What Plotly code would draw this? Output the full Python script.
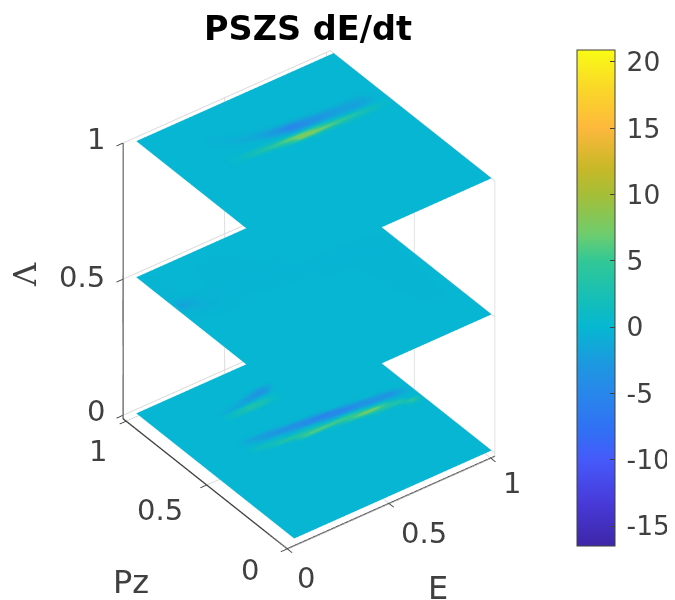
import plotly.graph_objects as go

E_MIN, E_MAX = 0.05, 1.02
PZ_MIN, PZ_MAX = 0.02, 1.0

lambda_levels = [0, 0.5, 1]

# fractions across each slice
bottom_e = [0, .20, .25, .30, .35, .40, .45, .50, .55, .60, .65, .70, .75, .80, .85, .90, .95, 1.0]
bottom_pz = [0, .40, .42, .44, .46, .48, .50, .52, .54, .56, .58, .60, .62, .64, .72, .74, .76, .78, .80, .82, .84, .86, .88, 1.0]
bottom_values = [
    [0]*18,
    [0]*18,
    [0, 0, 0, 0, 0, 0, 0, 0, 0, 0, 0, 0, 0, 0, 0, 0, 1, 0],
    [0, 0, 0, 0, 0, 0, 0, 0, 0, 0, 0, 0, 0, 0, 0, 1, 4.5, 0],
    [0, 0, 0, 0, 0, 0, 0, 0, 0, 0, 0, 0, 1.5, 3, 3.5, 3.7, 0, 0],
    [0, 0, 0, 0, 0, 0, 0, 0, 0, 1, 3, 6, 8.5, 7.5, 3.5, 0, 0, 0],
    [0, 0, 0, 0, 0, .5, 5, 6.5, 6.5, 6, 5.5, 4.5, 2, 0, -.8, -1.6, -1.3, 0],
    [0, 0, 0, 1, 3, 4, 3, 2.5, 1.5, 0, -.5, -1.4, -2.3, -3.3, -3.5, -3.7, -1.3, 0],
    [0, 0, 1.5, 2, 1.5, 0, 0, -.4, -1.6, -3.3, -4.7, -5.4, -4.3, -3.3, -1.9, -1, 0, 0],
    [0, 0, .5, 0, -.4, -1.3, -2.7, -4.4, -5.6, -6, -4.7, -2.6, -1, 0, 0, 0, 0, 0],
    [0, 0, -.5, -1.7, -3, -4, -4, -3.6, -2.4, -1.4, 0, 0, 0, 0, 0, 0, 0, 0],
    [0, 0, -1.5, -2.3, -2.3, -1.3, -.7, 0, 0, 0, 0, 0, 0, 0, 0, 0, 0, 0],
    [0, 0, -.5, -.3, 0, 0, 0, 0, 0, 0, 0, 0, 0, 0, 0, 0, 0, 0],
    [0]*18,
    [0]*18,
    [0]*18,
    [0, 0, 0, 1, 2, 3, 2.4, 1, 0, 0, 0, 0, 0, 0, 0, 0, 0, 0],
    [0, 0, 0, 1, 2, 3, 2.4, 1, 0, 0, 0, 0, 0, 0, 0, 0, 0, 0],
    [0, 0, 0, -1, -1.4, -1.5, -1.1, -.5, 0, 0, 0, 0, 0, 0, 0, 0, 0, 0],
    [0, 0, 0, 0, -.6, -2, -3.4, -3.5, 0, 0, 0, 0, 0, 0, 0, 0, 0, 0],
    [0, 0, 0, 0, 0, 0, -1.1, -2.6, -1, 0, 0, 0, 0, 0, 0, 0, 0, 0],
    [0]*18,
    [0]*18,
    [0]*18,
]

middle_e = [0, .03, .08, .15, .3, .5, .7, .9, 1.0]
middle_pz = [0, .55, .60, .65, .70, .75, .80, 1.0]
middle_values = [
    [0, 0, 0, 0, 0, 0, 0, 0, 0],
    [0, 0, 0, 0, 0, 0, 0, -.1, 0],
    [0, 0, 0, 0, 0, 0, -.1, -.25, 0],
    [0, 0, 0, -.2, 0, -.1, -.25, -.1, 0],
    [0, 0, -.7, -.4, -.1, -.2, -.1, 0, 0],
    [0, -2, -1, -.2, -.2, -.1, 0, 0, 0],
    [0, -.3, 0, 0, -.1, 0, 0, 0, 0],
    [0, 0, 0, 0, 0, 0, 0, 0, 0],
]

top_e = [0, .20, .25, .30, .35, .40, .45, .50, .55, .60, .65, .70, .75, .80, .85, .90, .95, 1.0]
top_pz = [0, .60, .62, .64, .66, .68, .70, .72, .74, .76, .78, .80, .82, .84, .86, 1.0]
top_values = [
    [0]*18,
    [0]*18,
    [0, 0, 0, 0, 0, 0, 0, 0, .5, 1, 1.2, 1.4, 1.6, 1.6, 1.4, 1.2, .7, 0],
    [0, 0, 0, 0, 0, .4, 1.5, 4, 8, 8.5, 7.5, 6.5, 5, 3.8, 2.5, 1.4, .5, 0],
    [0, 0, .3, 1.2, 2.4, 3.8, 5.5, 7, 7, 6, 4, 1.8, .6, -.2, -.6, -.6, 0, 0],
    [0, 0, .5, 1.4, 1.6, 1.6, 1, .5, -.6, -1.2, -1.5, -1.7, -1.8, -1.8, -1.9, -1.6, -.4, 0],
    [0, 0, .1, 0, 0, 0, -.3, -1.3, -3.5, -4, -3.6, -3.2, -2.4, -2, -1.9, -1.4, -.3, 0],
    [0, 0, 0, 0, 0, -.4, -1.6, -3.2, -6, -4.5, -2.8, -2, -1.4, -1, -.9, -.6, 0, 0],
    [0, 0, 0, 0, -.4, -1.1, -2.2, -2.6, -2.2, -1.4, -.8, -.3, 0, 0, 0, 0, 0, 0],
    [0, 0, 0, -.3, -.9, -1.1, -1, -.6, -.2, 0, 0, 0, 0, 0, 0, 0, 0, 0],
    [0, 0, -.1, -.6, -.6, -.4, -.1, 0, 0, 0, 0, 0, 0, 0, 0, 0, 0, 0],
    [0, 0, -.3, -.4, -.2, 0, 0, 0, 0, 0, 0, 0, 0, 0, 0, 0, 0, 0],
    [0, 0, -.3, -.1, 0, 0, 0, 0, 0, 0, 0, 0, 0, 0, 0, 0, 0, 0],
    [0, 0, -.1, 0, 0, 0, 0, 0, 0, 0, 0, 0, 0, 0, 0, 0, 0, 0],
    [0]*18,
    [0]*18,
]

slices = [
    (lambda_levels[0], bottom_e, bottom_pz, bottom_values),
    (lambda_levels[1], middle_e, middle_pz, middle_values),
    (lambda_levels[2], top_e, top_pz, top_values),
]

tick_vals = [0, 0.5, 1]
cbar_ticks = [-15, -10, -5, 0, 5, 10, 15, 20]
cbar_labels = ["\u2009-15", "\u2009-10", "\u2009-5", "\u20090", "\u20095", "\u200910", "\u200915", "\u200920"]
CMIN, CMAX = -16.5, 20.9

anchor_values = [-16.5, -13, -10, -8, -5, -3, 0, 2, 5, 7, 10, 12, 15, 18, 20.9]
anchor_colors = [
    "rgb(62,38,168)", "rgb(72,60,220)", "rgb(70,90,250)", "rgb(50,110,245)",
    "rgb(40,135,235)", "rgb(30,150,225)", "rgb(6,183,209)", "rgb(20,190,185)",
    "rgb(50,200,150)", "rgb(110,205,110)", "rgb(165,190,55)", "rgb(200,184,40)",
    "rgb(253,184,60)", "rgb(250,215,40)", "rgb(249,251,21)",
]
colorscale = [[(v - CMIN) / (CMAX - CMIN), c] for v, c in zip(anchor_values, anchor_colors)]

# tick labels placed on the page: (text, x px, y px)
tick_labels = [
    ("1", 96, 139), ("0.5", 82, 277), ("0", 96, 411),
    ("1", 98, 451), ("0.5", 160, 510), ("0", 250, 570),
    ("0", 306, 578), ("0.5", 424, 533), ("1", 512, 483),
]

TEXT = "#404040"
W, H = 675, 600
PAGE_OFFSET = 8   # the browser's default page margin


def page_x(px):
    return (px - PAGE_OFFSET) / W


def page_y(py):
    return 1 - (py - PAGE_OFFSET) / H


fig = go.Figure()
for level, ef, pf, vals in slices:
    xs = [E_MIN + f * (E_MAX - E_MIN) for f in ef]
    ys = [PZ_MIN + f * (PZ_MAX - PZ_MIN) for f in pf]
    fig.add_trace(go.Surface(
        x=xs, y=ys,
        z=[[level] * len(xs) for _ in ys],
        surfacecolor=vals,
        coloraxis="coloraxis",
        lighting=dict(ambient=1, diffuse=0, specular=0, roughness=1, fresnel=0),
        hoverinfo="skip",
    ))

axis_common = dict(
    tickmode="array", tickvals=tick_vals,
    showticklabels=False,
    showgrid=True, gridcolor="#d8d8d8", gridwidth=2,
    showbackground=False, showspikes=False, zeroline=False,
    showline=True, linecolor=TEXT, linewidth=3,
    ticks="outside", ticklen=8, tickcolor=TEXT, tickwidth=2,
    title=dict(text=""),
)


def label(text, px, py, family="DejaVu Sans", size=29, angle=0):
    return dict(text=text, x=page_x(px), y=page_y(py), xref="paper", yref="paper",
                xanchor="center", yanchor="middle", showarrow=False, textangle=angle,
                font=dict(family=family, size=size, color=TEXT))


annotations = [label(t, px, py) for t, px, py in tick_labels]
annotations += [
    label("Pz", 131, 582, size=32),
    label("E", 438, 588, size=32),
    label("Λ", 25, 275, family="DejaVu Serif", size=32, angle=-90),
]

fig.update_layout(
    width=W, height=H,
    margin=dict(l=0, r=0, t=0, b=0, autoexpand=False),
    paper_bgcolor="white",
    font=dict(family="DejaVu Sans", color=TEXT),
    title=dict(text="<b>PSZS dE/dt</b>", x=page_x(308), xanchor="center", y=page_y(28), yanchor="middle",
               font=dict(family="DejaVu Sans", size=33.5, color="black")),
    scene=dict(
        domain=dict(x=[0, 0.9], y=[0, 1]),
        xaxis=dict(axis_common, range=[0, 1.02]),
        yaxis=dict(axis_common, range=[0, 1.02]),
        zaxis=dict(axis_common, range=[-0.012, 1]),
        aspectmode="manual",
        aspectratio=dict(x=0.865, y=0.913, z=1.142),
        camera=dict(
            eye=dict(x=-0.9607, y=-1.298, z=1.1594),
            up=dict(x=0, y=0, z=1),
            center=dict(x=0.004, y=-0.012, z=-0.0291),
            projection=dict(type="orthographic"),
        ),
    ),
    coloraxis=dict(
        cmin=CMIN, cmax=CMAX, colorscale=colorscale,
        colorbar=dict(
            x=page_x(577), xanchor="left", xpad=0, ypad=0,
            y=page_y(298), yanchor="middle",
            lenmode="pixels", len=496, thicknessmode="pixels", thickness=38,
            outlinecolor=TEXT, outlinewidth=1,
            tickmode="array", tickvals=cbar_ticks, ticktext=cbar_labels,
            ticks="inside", ticklen=5, tickcolor=TEXT,
            tickfont=dict(family="DejaVu Sans", size=26.5, color=TEXT),
        ),
    ),
    annotations=annotations,
)

fig.write_html("out.html")
